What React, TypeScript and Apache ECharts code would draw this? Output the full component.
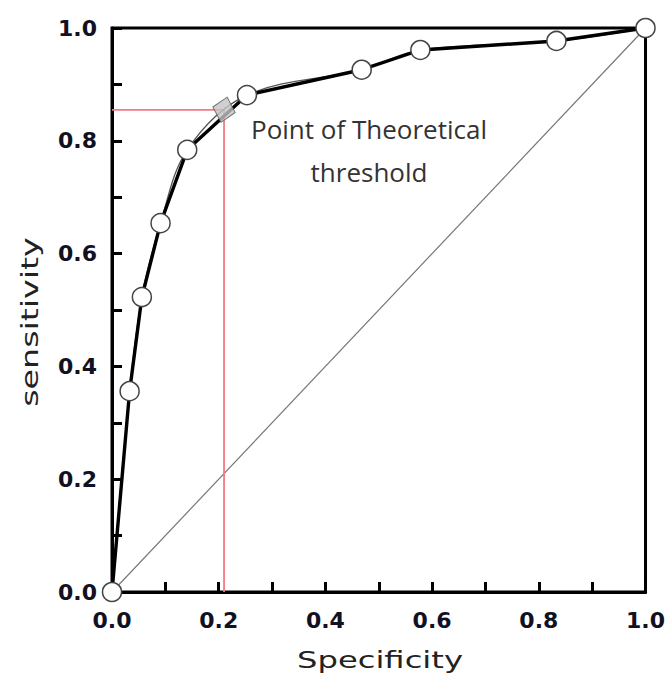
import React, { useEffect, useRef } from "react";
import * as echarts from "echarts";

const specificity = [0, 0.033, 0.056, 0.091, 0.141, 0.253, 0.468, 0.578, 0.833, 1.0];
const sensitivity = [0, 0.356, 0.523, 0.654, 0.784, 0.881, 0.926, 0.961, 0.977, 1.0];
const thresholdPoint = [0.21, 0.855];
const diagonal = [[0, 0], [1, 1]];
const annotation = ["Point of Theoretical", "threshold"];
const xName = "Specificity";
const yName = "sensitivity";

export default function App() {
  const ref = useRef<HTMLDivElement>(null);
  useEffect(() => {
    const chart = echarts.init(ref.current!, null, { renderer: "svg" });
    const curve = specificity.map((x, i) => [x, sensitivity[i]]);
    const labelFmt = (v: number) => (Math.round(v * 10) % 2 === 0 ? v.toFixed(1) : "");
    const axisLabel = {
      fontFamily: "DejaVu Sans",
      fontWeight: "bold" as const,
      fontSize: 22,
      color: "#111122",
      formatter: labelFmt,
    };
    chart.setOption({
      animation: false,
      backgroundColor: "#fff",
      grid: {
        left: 112,
        right: 18,
        top: 28,
        bottom: 86,
        show: true,
        borderColor: "#000",
        borderWidth: 3,
        backgroundColor: "transparent",
      },
      xAxis: {
        type: "value",
        min: 0,
        max: 1,
        interval: 0.1,
        axisLine: { show: true, lineStyle: { color: "#000", width: 3 } },
        axisTick: { show: true, inside: true, length: 10, lineStyle: { color: "#000", width: 3 } },
        axisLabel: { ...axisLabel, margin: 17 },
        splitLine: { show: false },
      },
      yAxis: {
        type: "value",
        min: 0,
        max: 1,
        interval: 0.1,
        axisLine: { show: true, lineStyle: { color: "#000", width: 3 } },
        axisTick: { show: true, inside: true, length: 10, lineStyle: { color: "#000", width: 3 } },
        axisLabel: { ...axisLabel, margin: 15 },
        splitLine: { show: false },
      },
      series: [
        {
          type: "line",
          data: diagonal,
          symbol: "none",
          lineStyle: { color: "#777", width: 1.2 },
          z: 1,
        },
        {
          type: "line",
          data: [
            [0, thresholdPoint[1]],
            thresholdPoint,
            [thresholdPoint[0], 0],
          ],
          symbol: "none",
          lineStyle: { color: "#f27b86", width: 1.8 },
          z: 2,
        },
        {
          type: "line",
          data: curve,
          symbol: "none",
          smooth: 0.35,
          lineStyle: { color: "#555", width: 1.3 },
          z: 2,
        },
        {
          type: "line",
          data: curve,
          symbol: "circle",
          symbolSize: 19,
          showAllSymbol: true,
          itemStyle: { color: "#fff", borderColor: "#444", borderWidth: 1.5 },
          lineStyle: { color: "#000", width: 3.4 },
          z: 3,
        },
        {
          type: "scatter",
          data: [thresholdPoint],
          symbol: "diamond",
          symbolSize: [23, 26],
          symbolRotate: -14,
          itemStyle: { color: "#c4c4c4", borderColor: "#555", borderWidth: 1 },
          z: 4,
        },
      ],
      graphic: [
        {
          type: "text",
          x: 369,
          y: 129,
          style: {
            text: annotation[0],
            fontFamily: "Open Sans",
            fontSize: 26,
            fill: "#333",
            align: "center",
            verticalAlign: "middle",
          },
        },
        {
          type: "text",
          x: 369,
          y: 172,
          style: {
            text: annotation[1],
            fontFamily: "Open Sans",
            fontSize: 26,
            fill: "#333",
            align: "center",
            verticalAlign: "middle",
          },
        },
        {
          type: "text",
          x: 380,
          y: 660,
          scaleX: 1.4,
          style: {
            text: xName,
            fontFamily: "DejaVu Sans",
            fontSize: 23,
            fill: "#222",
            align: "center",
            verticalAlign: "middle",
          },
        },
        {
          type: "text",
          x: 30,
          y: 322,
          rotation: Math.PI / 2,
          scaleX: 1.45,
          style: {
            text: yName,
            fontFamily: "DejaVu Sans",
            fontSize: 23,
            fill: "#222",
            align: "center",
            verticalAlign: "middle",
          },
        },
      ],
    });
    return () => chart.dispose();
  }, []);
  return (
    <div
      ref={ref}
      style={{ position: "fixed", left: 0, top: 0, width: 668, height: 678 }}
    />
  );
}
